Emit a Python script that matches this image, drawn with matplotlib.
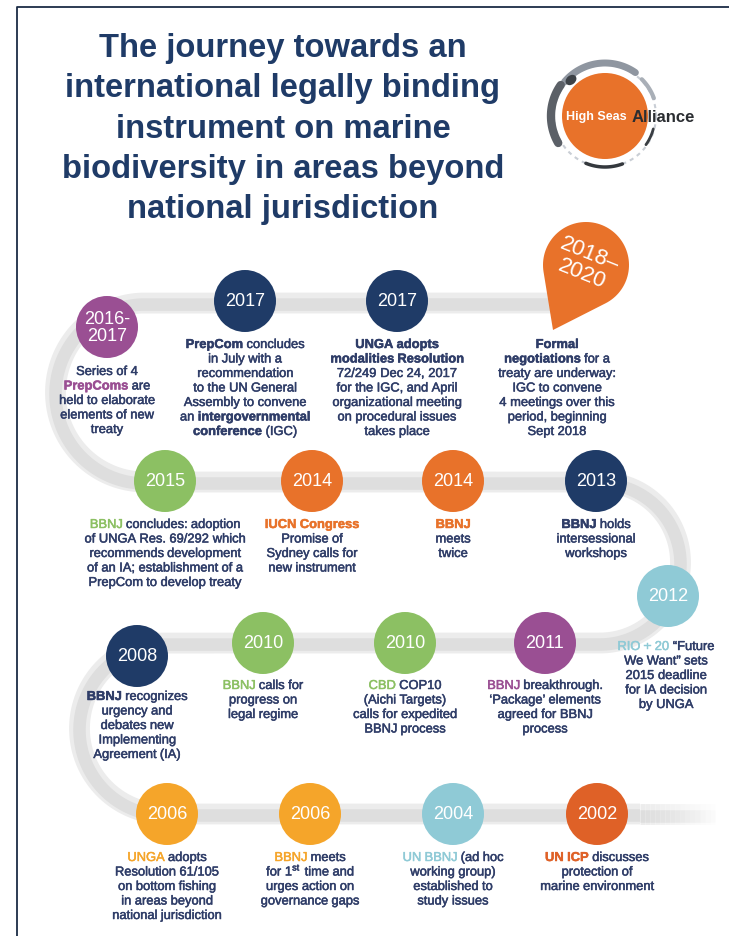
import re
import numpy as np
import matplotlib
matplotlib.use("Agg")
import matplotlib.pyplot as plt
import matplotlib.patheffects as pe
from matplotlib.patches import Circle, Polygon, Ellipse

plt.rcParams['font.family'] = ['Liberation Sans', 'DejaVu Sans']
plt.rcParams['mathtext.fontset'] = 'custom'
plt.rcParams['mathtext.rm'] = 'Liberation Sans'

title_lines = ["The journey towards an",
               "international legally binding",
               "instrument on marine",
               "biodiversity in areas beyond",
               "national jurisdiction"]

years = ["2016-\n2017", "2017", "2017", "2018–\n2020",
         "2015", "2014", "2014", "2013", "2012",
         "2008", "2010", "2010", "2011",
         "2006", "2006", "2004", "2002"]

descriptions = [
    ["Series of 4", "[p:PrepComs] are", "held to elaborate", "elements of new", "treaty"],
    ["[b:PrepCom] concludes", "in July with a", "recommendation", "to the UN General",
     "Assembly to convene", "an [b:intergovernmental]", "[b:conference] (IGC)"],
    ["[b:UNGA adopts]", "[b:modalities Resolution]", "72/249 Dec 24, 2017", "for the IGC, and April",
     "organizational meeting", "on procedural issues", "takes place"],
    ["[b:Formal]", "[b:negotiations] for a", "treaty are underway:", "IGC to convene",
     "4 meetings over this", "period, beginning", "Sept 2018"],
    ["[g:BBNJ] concludes: adoption", "of UNGA Res. 69/292 which", "recommends development",
     "of an IA; establishment of a", "PrepCom to develop treaty"],
    ["[o:IUCN Congress]", "Promise of", "Sydney calls for", "new instrument"],
    ["[o:BBNJ]", "meets", "twice"],
    ["[b:BBNJ] holds", "intersessional", "workshops"],
    ["[c:RIO + 20] “Future", "We Want” sets", "2015 deadline", "for IA decision", "by UNGA"],
    ["[b:BBNJ] recognizes", "urgency and", "debates new", "Implementing", "Agreement (IA)"],
    ["[g:BBNJ] calls for", "progress on", "legal regime"],
    ["[g:CBD] COP10", "(Aichi Targets)", "calls for expedited", "BBNJ process"],
    ["[m:BBNJ] breakthrough.", "‘Package’ elements", "agreed for BBNJ", "process"],
    ["[y:UNGA] adopts", "Resolution 61/105", "on bottom fishing", "in areas beyond", "national jurisdiction"],
    ["[y:BBNJ] meets", "for 1$^{\\mathrm{st}}$ time and", "urges action on", "governance gaps"],
    ["[c:UN BBNJ] (ad hoc", "working group)", "established to", "study issues"],
    ["[r:UN ICP] discusses", "protection of", "marine environment"],
]

# colours
NAVY = "#1f3b67"
TEXT = "#2f3d68"
PURPLE = "#9a4f93"
GREEN = "#8cc063"
ORANGE = "#e8722a"
GOLD = "#f5a52a"
LBLUE = "#8fcad6"
RED = "#df6127"

circle_colors = [PURPLE, NAVY, NAVY, ORANGE, GREEN, ORANGE, ORANGE, NAVY, LBLUE,
                 NAVY, GREEN, GREEN, PURPLE, GOLD, GOLD, LBLUE, RED]

STYLE = {'n': (TEXT, 'normal'), 'b': (TEXT, 'bold'), 'p': (PURPLE, 'bold'),
         'g': (GREEN, 'normal'), 'o': (ORANGE, 'bold'), 'c': (LBLUE, 'normal'),
         'm': (PURPLE, 'normal'), 'y': (GOLD, 'normal'), 'r': (RED, 'bold')}

# layout in pixels: circle centre, text centre x, first text line y
slots = [(107, 328, 107, 372), (245, 302, 245, 345), (397, 302, 397, 345), (586, 266, 557, 345),
         (165, 482, 165, 525), (312, 482, 312, 525), (453, 482, 453, 525), (596, 482, 596, 525),
         (668, 597, 666, 647),
         (137, 657, 137, 697), (263, 644, 263, 686), (405, 644, 405, 686), (545, 644, 545, 686),
         (167, 815, 167, 858), (310, 815, 310, 858), (453, 815, 453, 858), (597, 815, 597, 858)]
R = 31
LINE_H = 14.5
FS = 9.3

W, H = 729, 937
fig = plt.figure(figsize=(W / 100, H / 100), dpi=100)
ax = fig.add_axes([0, 0, 1, 1])
ax.set_xlim(0, W)
ax.set_ylim(H, 0)
ax.axis('off')
renderer = fig.canvas.get_renderer()

# frame
ax.plot([17, 17, W], [H, 8, 8], color="#1b2c45", lw=1.3, zorder=1)

# title
for i, line in enumerate(title_lines):
    ax.text(283, 57 + i * 40.3, line, ha='center', va='baseline', fontsize=23.6,
            fontweight='bold', color=NAVY)


def arc(cx, cy, r, a0, a1, n=80):
    a = np.radians(np.linspace(a0, a1, n))
    return cx + r * np.cos(a), cy + r * np.sin(a)


# grey road
xs, ys = [552, 145], [304, 304]
ax_, ay_ = arc(145, 393.5, 89.5, -90, -270)
xs += list(ax_); ys += list(ay_)
xs += [600]; ys += [483]
ax_, ay_ = arc(600, 563.5, 80.5, -90, 90)
xs += list(ax_); ys += list(ay_)
xs += [165]; ys += [644]
ax_, ay_ = arc(165, 729.5, 85.5, -90, -270)
xs += list(ax_); ys += list(ay_)
xs += [640]; ys += [815]
xs, ys = np.array(xs), np.array(ys)
ax.plot(xs, ys, color="#ececec", lw=15, solid_capstyle='butt', zorder=2)
ax.plot(xs, ys + 1.5, color="#dedede", lw=9, solid_capstyle='butt', zorder=2)
# fading end of the road
fx = np.linspace(640, 715, 16)
for k in range(15):
    a = 1 - k / 15
    ax.plot(fx[k:k + 2], [815, 815], color="#ececec", lw=15, alpha=a, solid_capstyle='butt', zorder=2)
    ax.plot(fx[k:k + 2], [816.5, 816.5], color="#dedede", lw=9, alpha=a, solid_capstyle='butt', zorder=2)


def rich_line(x, y, line):
    words = []
    for tok in re.split(r'(\[\w+:[^\]]*\])', line):
        if not tok:
            continue
        m = re.fullmatch(r'\[(\w+):([^\]]*)\]', tok)
        code, s = m.groups() if m else ('n', tok)
        for p in re.split(r'(\s+)', s):
            if p == '':
                continue
            words.append(None if p.isspace() else (p, code))
    sw = 0.278 * FS * 100 / 72
    items, total = [], 0
    for w in words:
        if w is None:
            total += sw
            items.append((None, sw))
            continue
        color, weight = STYLE[w[1]]
        t = ax.text(0, y, w[0], color=color, fontweight=weight, fontsize=FS,
                    ha='left', va='baseline', zorder=5,
                    path_effects=[pe.withStroke(linewidth=0.35, foreground=color)])
        wd = t.get_window_extent(renderer=renderer).width
        items.append((t, wd))
        total += wd
    pos = x - total / 2
    for t, wd in items:
        if t is not None:
            t.set_x(pos)
        pos += wd


for i, (cx, cy, tx, ty) in enumerate(slots):
    if i == 3:
        # pin shaped marker
        tipx, tipy = 553, 331
        r = 43
        d = np.hypot(tipx - cx, tipy - cy)
        ang = np.degrees(np.arctan2(tipy - cy, tipx - cx))
        half = np.degrees(np.arccos(r / d))
        px, py = arc(cx, cy, r, ang + half, ang - half + 360)
        pts = np.column_stack([np.append(px, tipx), np.append(py, tipy)])
        ax.add_patch(Polygon(pts, closed=True, facecolor=ORANGE, edgecolor='none', zorder=4))
        ax.text(cx, cy - 2, years[i], ha='center', va='center', fontsize=16, color='white',
                rotation=-22, rotation_mode='anchor', linespacing=1.0, zorder=5)
    else:
        ax.add_patch(Circle((cx, cy), R, facecolor=circle_colors[i], edgecolor='none', zorder=4))
        ax.text(cx, cy, years[i], ha='center', va='center', fontsize=13, color='white',
                linespacing=1.05, zorder=5)
    for j, line in enumerate(descriptions[i]):
        rich_line(tx, ty + j * LINE_H + 4, line)

# High Seas Alliance logo
lx, ly = 605, 117
ax.add_patch(Circle((lx, ly), 43, facecolor=ORANGE, edgecolor='none', zorder=4))
ring_x, ring_y = arc(lx, ly, 51, 0, 360, 200)
ax.plot(ring_x, ring_y, color="#c9ced5", lw=1.5, ls=(0, (2, 2)), zorder=3)
for a0, a1, rr, col, lw in [(-140, -55, 53, "#8f96a0", 5), (-45, -20, 52, "#a9afb7", 3),
                            (150, 215, 54, "#5b6067", 6), (70, 112, 51, "#34383d", 2.5),
                            (15, 35, 50, "#3a3e43", 2)]:
    px, py = arc(lx, ly, rr, a0, a1)
    ax.plot(px, py, color=col, lw=lw, solid_capstyle='round', zorder=3)
ax.add_patch(Ellipse((lx - 34, ly - 36), 12, 9, angle=-40, facecolor="#3d4247", zorder=3))
ax.text(627, ly, "High Seas", ha='right', va='center', fontsize=9, fontweight='bold',
        color='white', zorder=5)
ax.text(632, ly, "Alliance", ha='left', va='center', fontsize=12, fontweight='bold',
        color="#2a2d31", zorder=5)

fig.savefig("out.png", dpi=100, facecolor='white')
